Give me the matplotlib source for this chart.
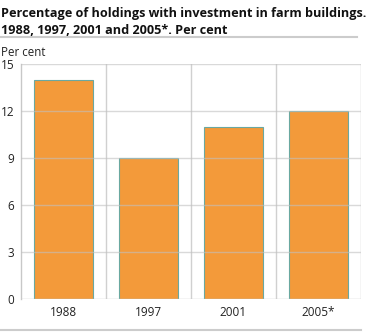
import matplotlib
matplotlib.use("Agg")
import matplotlib.pyplot as plt
from matplotlib.lines import Line2D

plt.rcParams["font.family"] = ["Open Sans", "DejaVu Sans"]

years = ["1988", "1997", "2001", "2005*"]
shares = [14, 9, 11, 12]
y_ticks = [0, 3, 6, 9, 12, 15]

W, H = 375, 332
fig = plt.figure(figsize=(W / 100, H / 100), dpi=100)

# plot area in pixel coordinates
left, right, top, bottom = 21, 361, 64, 299
ax = fig.add_axes([left / W, 1 - bottom / H, (right - left) / W, (bottom - top) / H])

x = range(len(years))
ax.bar(x, shares, width=0.70, color="#f39a3a", edgecolor="#6aa8a0", linewidth=0.8, zorder=2)

ax.set_xlim(-0.5, len(years) - 0.5)
ax.set_ylim(0, 15)
ax.set_yticks(y_ticks)
ax.set_yticklabels([str(t) for t in y_ticks], fontsize=8.5, color="#222222")
ax.set_xticks(list(x))
ax.set_xticklabels(years, fontsize=8.5, color="#222222")
ax.tick_params(length=0, pad=5)
ax.tick_params(axis="y", pad=5)

# horizontal grid over the bars, vertical separators between categories
for t in y_ticks[1:]:
    ax.axhline(t, color="#c0c0c0", linewidth=1.0, alpha=0.6, zorder=3)
for b in [0.5, 1.5, 2.5, 3.5]:
    ax.axvline(b, color="#d0d0d0", linewidth=1.0, zorder=1)

for side in ["top", "right", "bottom"]:
    ax.spines[side].set_visible(False)
ax.spines["left"].set_color("#c8c8c8")
ax.spines["left"].set_linewidth(1.0)
ax.axhline(0, color="#c8c8c8", linewidth=1.0, zorder=3)

fig.text(1 / W, 1 - 14 / H, "Percentage of holdings with investment in farm buildings.",
         fontsize=9.1, fontweight="bold", va="center", ha="left", color="#111111")
fig.text(1 / W, 1 - 30 / H, "1988, 1997, 2001 and 2005*. Per cent",
         fontsize=9.1, fontweight="bold", va="center", ha="left", color="#111111")
fig.text(1 / W, 1 - 52 / H, "Per cent", fontsize=8.3, va="center", ha="left", color="#222222")

fig.add_artist(Line2D([0, 357 / W], [1 - 37 / H, 1 - 37 / H], color="#cccccc", linewidth=1.5))
fig.add_artist(Line2D([0, 361 / W], [1 - 330 / H, 1 - 330 / H], color="#cccccc", linewidth=1.5))

fig.savefig("out.png", dpi=100)
